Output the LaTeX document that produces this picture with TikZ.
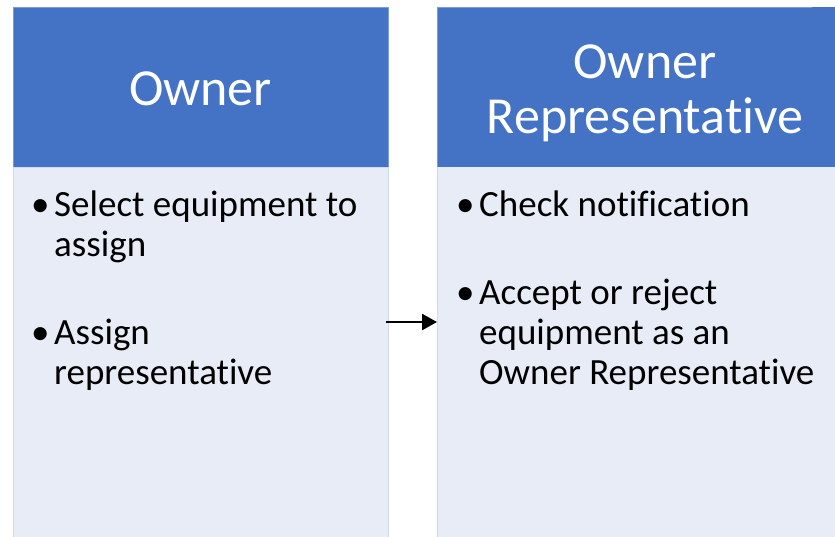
\documentclass[tikz,border=0pt]{standalone}
\usepackage{fontspec}
\setmainfont[Ligatures={NoCommon}]{Carlito}
\usetikzlibrary{arrows.meta}
\definecolor{hdr}{HTML}{4472C4}
\definecolor{bdy}{HTML}{E7ECF6}
\definecolor{bdyline}{HTML}{D3D9EC}
\tikzset{
  hdrbox/.style={fill=hdr, draw=hdr!70!white, line width=0.6pt},
  bdybox/.style={fill=bdy, draw=bdyline, line width=0.6pt},
  hdrtext/.style={text=white, font=\fontsize{52}{57}\selectfont, inner sep=0pt, anchor=base},
  bodyline/.style={text=black, font=\fontsize{37}{40}\selectfont, inner sep=0pt, anchor=base west},
  bulletmark/.style={text=black, font=\fontsize{37}{40}\selectfont, inner sep=0pt, anchor=base west},
}
\begin{document}
\begin{tikzpicture}[x=1pt,y=-1pt]
\useasboundingbox (0,0) rectangle (835,536);
\fill[white] (0,0) rectangle (835,536);
% left column
\draw[hdrbox] (13,7) rectangle (388,167);
\draw[bdybox] (13,167) rectangle (388,540);
\node[hdrtext] (lh) at (200.5,105) {Owner};
\coordinate (lbE) at (386,322);
% right column
\fill[hdr] (437,7) rectangle (840,167);
\draw[hdr!70!white, line width=0.6pt] (812,7) -- (437,7) -- (437,167) -- (812,167);
\fill[bdy] (437,167) rectangle (840,540);
\draw[bdyline, line width=0.6pt] (437,540) -- (437,167);
\node[hdrtext] (rh1) at (645,78) {Owner};
\node[hdrtext] (rh2) at (645,133) {Representative};
\coordinate (rbW) at (437,322);
% left bullets
\node[bulletmark] (lb1) at (31,216) {•};
\node[bodyline] (l1a) at (54,216) {Select equipment to};
\node[bodyline] (l1b) at (54,256) {assign};
\node[bulletmark] (lb2) at (31,344) {•};
\node[bodyline] (l2a) at (54,344) {Assign};
\node[bodyline] (l2b) at (54,384) {representative};
% right bullets
\node[bulletmark] (rb1) at (456,216) {•};
\node[bodyline] (r1a) at (479,216) {Check notification};
\node[bulletmark] (rb2) at (456,304) {•};
\node[bodyline] (r2a) at (479,304) {Accept or reject};
\node[bodyline] (r2b) at (479,344) {equipment as an};
\node[bodyline] (r2c) at (479,384) {Owner Representative};
% arrow
\draw[line width=2.5pt, -{Triangle[length=15pt,width=16pt]}] (lbE) -- (rbW);
\end{tikzpicture}
\end{document}
